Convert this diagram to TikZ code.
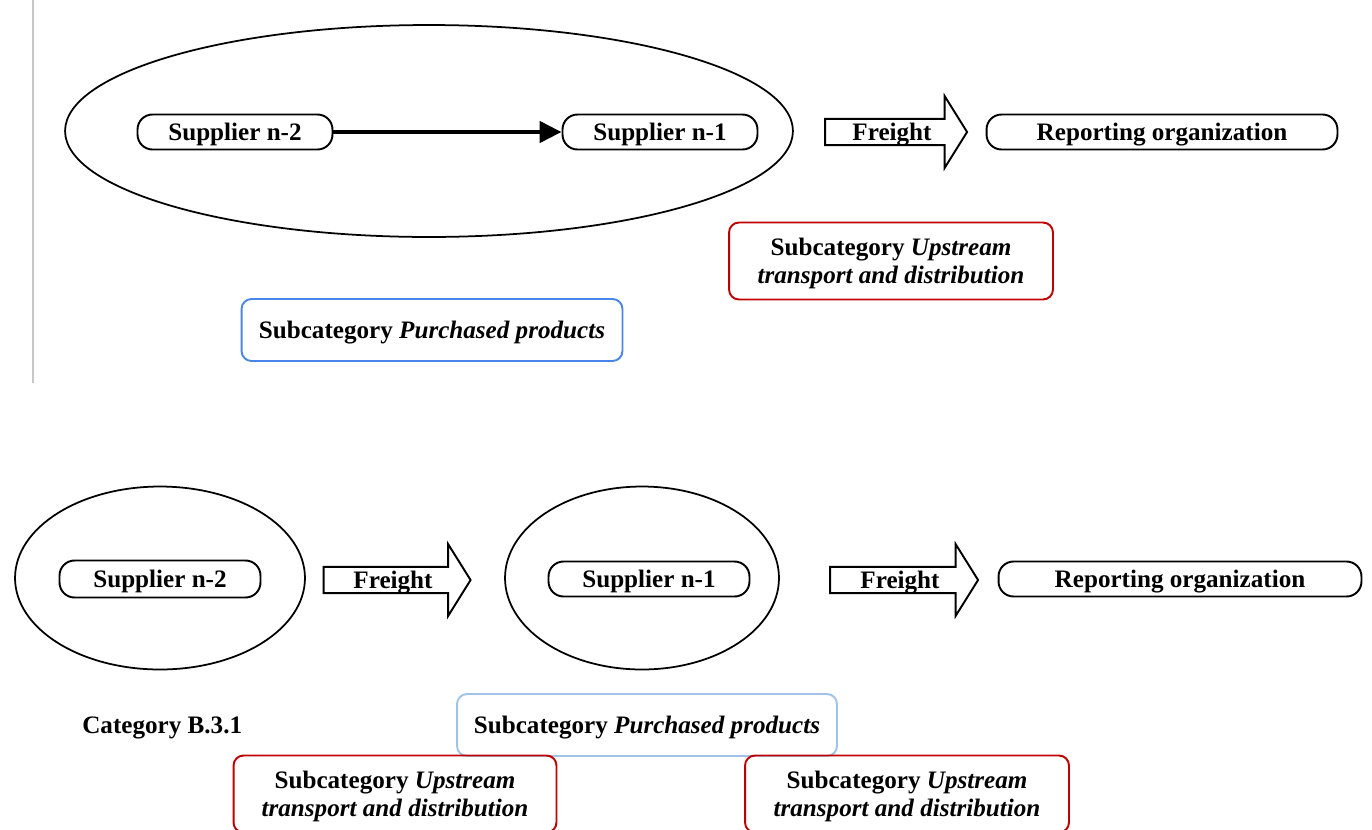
\documentclass[tikz,border=0pt]{standalone}
\usepackage{fontspec}
\setmainfont{Liberation Serif}
\usetikzlibrary{shapes.geometric,shapes.arrows,arrows.meta}

\definecolor{SubRed}{RGB}{192,0,0}
\definecolor{SubBlue}{RGB}{74,134,232}
\definecolor{SubLightBlue}{RGB}{160,196,232}
\definecolor{RuleGrey}{RGB}{200,200,200}

\newcommand{\labelfont}{\fontsize{14.3}{16}\selectfont\bfseries}

\tikzset{
  pill/.style={draw, line width=1.1pt, rounded corners=0.3cm, minimum height=0.7cm, inner sep=0pt, text depth=0pt, font=\labelfont},
  group/.style={draw, ellipse, line width=1pt, inner sep=0pt},
  freight/.style={draw, single arrow, line width=1.1pt, minimum width=1.44cm, single arrow head extend=0.34cm, single arrow tip angle=116, inner sep=0pt, text depth=0pt, font=\labelfont},
  subbox/.style={draw, line width=1.1pt, rounded corners=0.2cm, align=center, inner sep=0pt, text depth=0pt, font=\labelfont}
}

\begin{document}
\begin{tikzpicture}[x=0.02cm, y=-0.02cm]
    \useasboundingbox (0,0) rectangle (1372,829);
    \clip (0,0) rectangle (1372,829);

    % Upper chain
    \draw[RuleGrey, line width=0.6pt] (33,0) -- (33,383);
    \node[group, minimum width=14.56cm, minimum height=4.24cm] (grpA) at (429,131) {};
    \node[pill, minimum width=3.9cm] (supAb) at (235,132) {Supplier n-2};
    \node[pill, minimum width=3.9cm] (supAa) at (660,132) {Supplier n-1};
    \node[freight, minimum height=2.84cm] (frA) at (892,132) {Freight};
    \node[pill, minimum width=7.02cm] (repA) at (1162,132) {Reporting organization};

    \draw[line width=2.6pt, -{Triangle[length=0.44cm, width=0.42cm]}] (supAb) -- (supAa);

    \node[subbox, draw=SubRed, minimum width=6.48cm, minimum height=1.54cm] (upA) at (891,261) {Subcategory \textit{Upstream}\\\textit{transport and distribution}};
    \node[subbox, draw=SubBlue, minimum width=7.62cm, minimum height=1.24cm] (purA) at (432,330) {Subcategory \textit{Purchased products}};

    % Lower chain
    \node[group, minimum width=5.8cm, minimum height=3.66cm] (grpB) at (160,578) {};
    \node[group, minimum width=5.48cm, minimum height=3.66cm] (grpC) at (642,578) {};
    \node[pill, minimum width=4.02cm, minimum height=0.74cm] (supBb) at (160,579) {Supplier n-2};
    \node[freight, minimum height=2.94cm] (frB) at (393,580) {Freight};
    \node[pill, minimum width=4.02cm] (supBa) at (649,579) {Supplier n-1};
    \node[freight, minimum height=2.96cm] (frC) at (900,580) {Freight};
    \node[pill, minimum width=7.26cm] (repB) at (1180,579) {Reporting organization};

    \node[font=\labelfont, anchor=west, inner sep=0pt, text depth=0pt] (cat) at (82,725) {Category B.3.1};
    \node[subbox, draw=SubLightBlue, minimum width=7.6cm, minimum height=1.24cm] (purB) at (647,725) {Subcategory \textit{Purchased products}};
    \node[subbox, draw=SubRed, minimum width=6.46cm, minimum height=1.54cm] (upB) at (395,794) {Subcategory \textit{Upstream}\\\textit{transport and distribution}};
    \node[subbox, draw=SubRed, minimum width=6.48cm, minimum height=1.54cm] (upC) at (907,794) {Subcategory \textit{Upstream}\\\textit{transport and distribution}};
\end{tikzpicture}
\end{document}
